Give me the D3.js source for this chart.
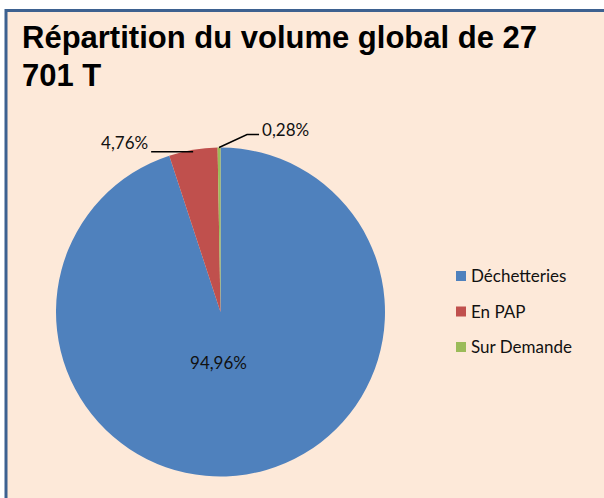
<!DOCTYPE html>
<html lang="fr">
<head>
<meta charset="UTF-8">
<title>Répartition du volume global</title>
<style>
  body, html { margin: 0; padding: 0; background: #fff; }
  svg { display: block; }
</style>
</head>
<body>
<div id="container"></div>
<script src="https://d3js.org/d3.v7.min.js"></script>
<script>
  // -------- DATA ------------
  const categories = ["Déchetteries", "En PAP", "Sur Demande"]
  const values = [94.96, 4.76, 0.28]
  const labels = ["94,96%", "4,76%", "0,28%"]
  const colors = ["#4F81BD", "#C0504D", "#9BBB59"]
  const titleLines = ["Répartition du volume global de 27", "701 T"]

  const width = 604, height = 498
  const cx = 220.5, cy = 312, radius = 164.5

  const svg = d3.select('#container')
    .append('svg')
    .attr('width', width)
    .attr('height', height)

  // frame of the chart area (runs off the right and bottom edges)
  svg.append('rect')
    .attr('x', 6)
    .attr('y', 10.5)
    .attr('width', width + 20)
    .attr('height', height + 20)
    .attr('fill', '#FDE9D9')
    .attr('stroke', '#3D6190')
    .attr('stroke-width', 3)

  // title
  svg.append('text')
    .attr('font-family', "'Liberation Sans', Arial, sans-serif")
    .attr('font-weight', 'bold')
    .attr('font-size', 31)
    .attr('fill', '#000')
    .selectAll('tspan')
    .data(titleLines)
    .join('tspan')
      .attr('x', 22)
      .attr('y', (d, i) => 48 + i * 38)
      .text(d => d)

  // -------- PIE ------------
  const pie = d3.pie().sort(null).value(d => d)
  const arcs = pie(values)
  const arc = d3.arc().innerRadius(0).outerRadius(radius)
  const edge = d3.arc().innerRadius(radius).outerRadius(radius)

  const g = svg.append('g').attr('transform', `translate(${cx},${cy})`)

  g.selectAll('path')
    .data(arcs)
    .join('path')
    .attr('d', arc)
    .attr('fill', (d, i) => colors[i])

  // -------- LABELS ------------
  const labelFont = "Lato, 'Open Sans', sans-serif"
  const labelSize = 17

  // big slice: label inside
  g.append('text')
    .attr('x', -2)
    .attr('y', 57)
    .attr('text-anchor', 'middle')
    .attr('font-family', labelFont)
    .attr('font-size', labelSize)
    .attr('fill', '#111')
    .text(labels[0])

  // En PAP: horizontal leader to the left
  const pPap = edge.centroid(arcs[1])
  g.append('polyline')
    .attr('points', [[pPap[0], pPap[1] + 2], [pPap[0] - 42, pPap[1] + 2]].join(' '))
    .attr('fill', 'none')
    .attr('stroke', '#000')
    .attr('stroke-width', 1.4)
  g.append('text')
    .attr('x', pPap[0] - 45)
    .attr('y', pPap[1] - 1)
    .attr('text-anchor', 'end')
    .attr('font-family', labelFont)
    .attr('font-size', labelSize)
    .attr('fill', '#111')
    .text(labels[1])

  // Sur Demande: elbow leader up and right
  const pSur = edge.centroid(arcs[2])
  g.append('polyline')
    .attr('points', [[pSur[0], pSur[1]], [pSur[0] + 28, pSur[1] - 13], [pSur[0] + 40, pSur[1] - 13]].join(' '))
    .attr('fill', 'none')
    .attr('stroke', '#000')
    .attr('stroke-width', 1.4)
  g.append('text')
    .attr('x', pSur[0] + 43)
    .attr('y', pSur[1] - 12)
    .attr('font-family', labelFont)
    .attr('font-size', labelSize)
    .attr('fill', '#111')
    .text(labels[2])

  // -------- LEGEND ------------
  const legend = svg.append('g')
    .attr('transform', 'translate(456, 276)')

  const item = legend.selectAll('g')
    .data(categories)
    .join('g')
    .attr('transform', (d, i) => `translate(0, ${i * 35.5})`)

  item.append('rect')
    .attr('x', 0)
    .attr('y', -5)
    .attr('width', 10)
    .attr('height', 10)
    .attr('fill', (d, i) => colors[i])

  item.append('text')
    .attr('x', 15)
    .attr('y', 6)
    .attr('font-family', labelFont)
    .attr('font-size', labelSize)
    .attr('fill', '#111')
    .text(d => d)
</script>
</body>
</html>
